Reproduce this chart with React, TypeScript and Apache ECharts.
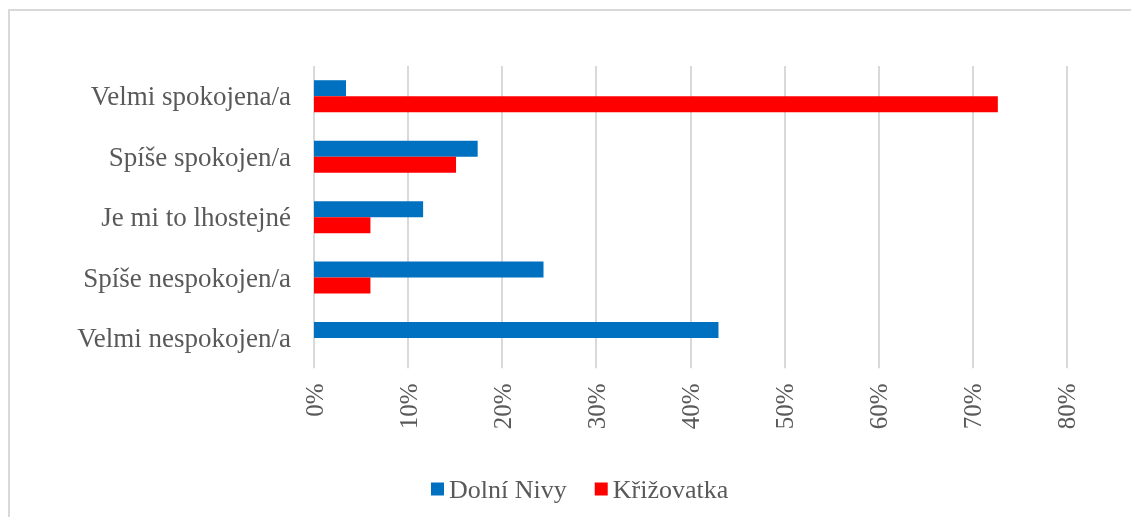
import React, { useEffect, useRef } from "react";
import * as echarts from "echarts";

const categories = [
  "Velmi spokojena/a",
  "Spíše spokojen/a",
  "Je mi to lhostejné",
  "Spíše nespokojen/a",
  "Velmi nespokojen/a",
];
const dolniNivy = [3.4, 17.4, 11.6, 24.4, 43.0];
const krizovatka = [72.7, 15.1, 6.0, 6.0, 0];
const seriesNames = ["Dolní Nivy", "Křižovatka"];
const colors = ["#0070C0", "#FF0000"];

export default function App() {
  const ref = useRef<HTMLDivElement>(null);
  useEffect(() => {
    if (!ref.current) return;
    const chart = echarts.init(ref.current, null, { renderer: "svg" });
    const font = "'Liberation Serif', 'Times New Roman', serif";
    chart.setOption({
      animation: false,
      grid: { left: 314, right: 64.5, top: 66, bottom: 148.7, containLabel: false },
      legend: {
        left: 426,
        top: 471,
        itemWidth: 13,
        itemHeight: 13,
        itemGap: 28,
        icon: "rect",
        textStyle: { fontFamily: font, fontSize: 26, color: "#595959" },
        data: seriesNames,
      },
      xAxis: {
        type: "value",
        min: 0,
        max: 80,
        interval: 10,
        axisLine: { show: false },
        axisTick: { show: false },
        splitLine: { show: true, lineStyle: { color: "#d9d9d9", width: 2 } },
        axisLabel: {
          rotate: 90,
          margin: 15,
          fontFamily: font,
          fontSize: 25,
          color: "#595959",
          formatter: (v: number) => v + "%",
        },
      },
      yAxis: {
        type: "category",
        inverse: true,
        data: categories,
        axisLine: { show: false },
        axisTick: { show: false },
        axisLabel: { margin: 23, fontFamily: font, fontSize: 27, color: "#595959" },
      },
      series: [
        {
          name: seriesNames[0],
          type: "bar",
          data: dolniNivy,
          barWidth: 16,
          barGap: "0%",
          itemStyle: { color: colors[0] },
        },
        {
          name: seriesNames[1],
          type: "bar",
          data: krizovatka,
          barWidth: 16,
          barGap: "0%",
          itemStyle: { color: colors[1] },
        },
      ],
    });
    return () => chart.dispose();
  }, []);
  return (
    <>
      <div
        style={{
          position: "fixed",
          left: 8,
          top: 9,
          width: 1200,
          height: 600,
          border: "2px solid #d9d9d9",
          boxSizing: "border-box",
        }}
      />
      <div
        ref={ref}
        style={{ position: "fixed", left: 0, top: 0, width: 1131, height: 517 }}
      />
    </>
  );
}
